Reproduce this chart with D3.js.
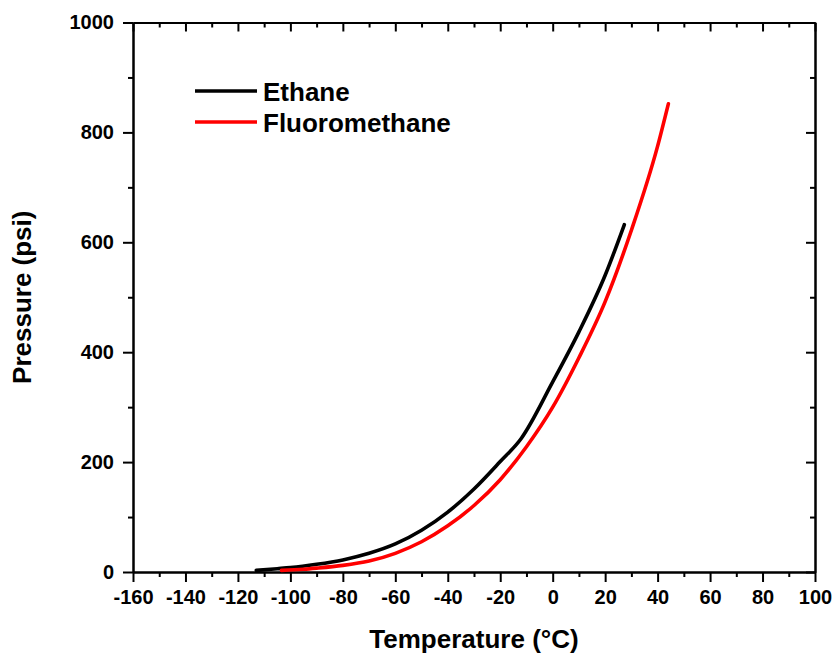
<!DOCTYPE html>
<html>
<head>
<meta charset="utf-8">
<script src="https://cdn.jsdelivr.net/npm/d3@7"></script>
<style>
  html, body { margin: 0; padding: 0; background: #fff; }
  svg text { font-family: "Liberation Sans", Arial, sans-serif; font-weight: bold; fill: #000; }
</style>
</head>
<body>
<svg id="chart" width="834" height="656"></svg>
<script>
// Saturated vapour pressure curves (temperature in °C, pressure in psi)
const ethaneTemp = [-113, -105, -100, -90, -80, -70, -60, -50, -40, -30, -20, -12, 0, 10, 20, 27.3];
const ethanePsi  = [3, 6, 8, 14, 22, 34, 51, 76, 109, 151, 201, 243, 346, 437, 540, 632];

const fluoroTemp = [-103.4, -95, -90, -80, -70, -60, -50, -40, -30, -20, -10, 0, 10, 20, 30, 40, 44.1];
const fluoroPsi  = [3, 5, 7, 12, 20, 34, 55, 84, 121, 168, 228, 300, 390, 492, 622, 775, 852];

const seriesNames  = ["Ethane", "Fluoromethane"];
const seriesColors = ["#000000", "#ff0000"];

const xMajorTicks = d3.range(-160, 101, 20);
const xMinorTicks = d3.range(-150, 100, 20);
const yMajorTicks = d3.range(0, 1001, 200);
const yMinorTicks = d3.range(100, 1000, 200);

const svg = d3.select("#chart");
const plotLeft = 133, plotRight = 815, plotTop = 22.5, plotBottom = 572;

const x = d3.scaleLinear().domain([-160, 100]).range([plotLeft, plotRight]);
const y = d3.scaleLinear().domain([0, 1000]).range([plotBottom, plotTop]);

const plain = d => String(d);

const axisStyle = g => {
  g.select(".domain").attr("stroke", "#000").attr("stroke-width", 2);
  g.selectAll(".tick line").attr("stroke", "#000").attr("stroke-width", 2);
  g.selectAll(".tick text").style("font-size", "20px");
};

// bottom axis: outward ticks with labels
svg.append("g").attr("transform", `translate(0,${plotBottom})`)
  .call(d3.axisBottom(x).tickValues(xMajorTicks).tickFormat(plain).tickSize(10).tickPadding(8).tickSizeOuter(0))
  .call(axisStyle);
svg.append("g").attr("transform", `translate(0,${plotBottom})`)
  .call(d3.axisBottom(x).tickValues(xMinorTicks).tickSize(5).tickFormat("").tickSizeOuter(0))
  .call(axisStyle);

// left axis: outward ticks with labels
svg.append("g").attr("transform", `translate(${plotLeft},0)`)
  .call(d3.axisLeft(y).tickValues(yMajorTicks).tickFormat(plain).tickSize(10).tickPadding(9).tickSizeOuter(0))
  .call(axisStyle);
svg.append("g").attr("transform", `translate(${plotLeft},0)`)
  .call(d3.axisLeft(y).tickValues(yMinorTicks).tickSize(5).tickFormat("").tickSizeOuter(0))
  .call(axisStyle);

// top axis: inward ticks, no labels
svg.append("g").attr("transform", `translate(0,${plotTop})`)
  .call(d3.axisTop(x).tickValues(xMajorTicks).tickSize(-9).tickFormat("").tickSizeOuter(0))
  .call(axisStyle);
svg.append("g").attr("transform", `translate(0,${plotTop})`)
  .call(d3.axisTop(x).tickValues(xMinorTicks).tickSize(-5).tickFormat("").tickSizeOuter(0))
  .call(axisStyle);

// right axis: inward ticks, no labels
svg.append("g").attr("transform", `translate(${plotRight},0)`)
  .call(d3.axisRight(y).tickValues(yMajorTicks).tickSize(-9).tickFormat("").tickSizeOuter(0))
  .call(axisStyle);
svg.append("g").attr("transform", `translate(${plotRight},0)`)
  .call(d3.axisRight(y).tickValues(yMinorTicks).tickSize(-5).tickFormat("").tickSizeOuter(0))
  .call(axisStyle);

// curves
const line = d3.line().x(d => x(d[0])).y(d => y(d[1])).curve(d3.curveMonotoneX);
const series = [
  d3.zip(ethaneTemp, ethanePsi),
  d3.zip(fluoroTemp, fluoroPsi)
];
series.forEach((pts, i) => {
  svg.append("path")
    .datum(pts)
    .attr("d", line)
    .attr("fill", "none")
    .attr("stroke", seriesColors[i])
    .attr("stroke-width", 3.6)
    .attr("stroke-linecap", "round")
    .attr("stroke-linejoin", "round");
});

// legend
const legend = svg.append("g");
seriesNames.forEach((name, i) => {
  const ly = 91 + i * 31;
  legend.append("line")
    .attr("x1", 195).attr("x2", 257).attr("y1", ly).attr("y2", ly)
    .attr("stroke", seriesColors[i]).attr("stroke-width", 3.6);
  legend.append("text")
    .attr("x", 263).attr("y", ly + 10)
    .style("font-size", "26px")
    .text(name);
});

// axis titles
svg.append("text")
  .attr("x", (plotLeft + plotRight) / 2).attr("y", 648)
  .attr("text-anchor", "middle")
  .style("font-size", "26px")
  .text("Temperature (°C)");

svg.append("text")
  .attr("transform", `translate(31,${(plotTop + plotBottom) / 2}) rotate(-90)`)
  .attr("text-anchor", "middle")
  .style("font-size", "26px")
  .text("Pressure (psi)");
</script>
</body>
</html>
